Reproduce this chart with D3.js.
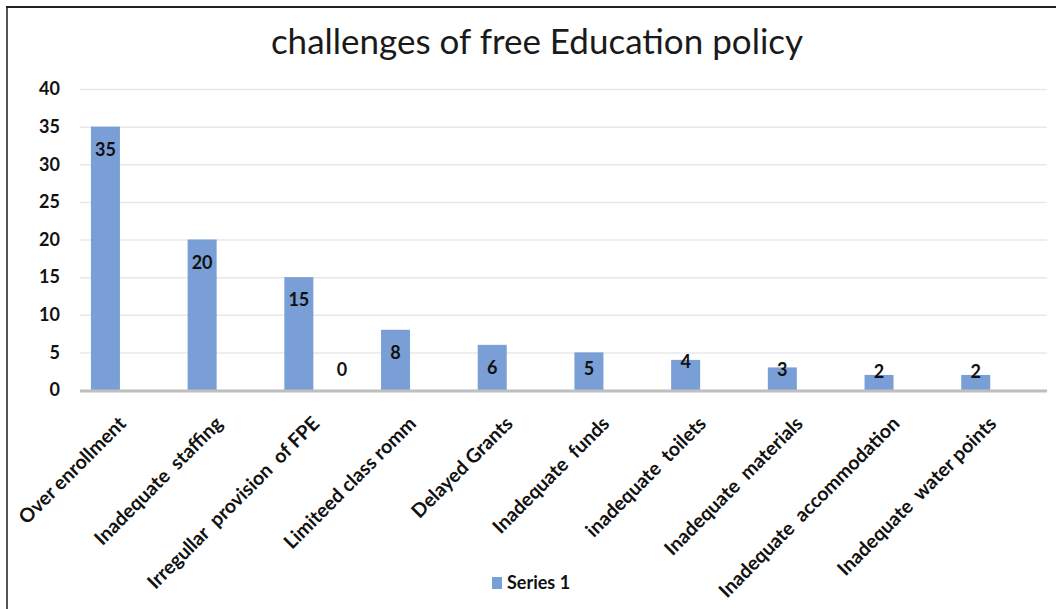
<!DOCTYPE html>
<html>
<head>
<meta charset="utf-8">
<script src="https://cdn.jsdelivr.net/npm/d3@7"></script>
<style>
  body { margin: 0; background: #fff; }
  svg text { font-family: Lato, "Open Sans", sans-serif; }
</style>
</head>
<body>
<svg id="chart"></svg>
<script>
const categories = ["Over enrollment", "Inadequate  staffing", "Irregullar  provision  of FPE", "Limiteed class romm",
    "Delayed Grants", "Inadequate  funds", "inadequate  toilets", "Inadequate  materials",
    "Inadequate  accommodation", "Inadequate  water points"];
const values = [35, 20, 15, 8, 6, 5, 4, 3, 2, 2];
// stray zero label sitting after the third category
const zeroLabel = { category: "Irregullar  provision  of FPE", value: 0 };
const yTicks = [0, 5, 10, 15, 20, 25, 30, 35, 40];

const data = categories.map((c, i) => ({ category: c, value: values[i] }));

const dimensions = {
    width: 1056,
    height: 609,
    margin: { top: 89, right: 9, bottom: 219, left: 80 }
};

const svg = d3.select("#chart")
    .attr("width", dimensions.width)
    .attr("height", dimensions.height);

const xScale = d3.scaleBand()
    .domain(categories)
    .range([dimensions.margin.left, dimensions.width - dimensions.margin.right])
    .padding(0);

const yScale = d3.scaleLinear()
    .domain([0, 40])
    .range([dimensions.height - dimensions.margin.bottom, dimensions.margin.top]);

const bw = xScale.bandwidth();

// border
svg.append("line").attr("x1", 7).attr("x2", 7).attr("y1", 6).attr("y2", 609)
    .attr("stroke", "#555").attr("stroke-width", 2);
svg.append("line").attr("x1", 6).attr("x2", 1056).attr("y1", 7).attr("y2", 7)
    .attr("stroke", "#222").attr("stroke-width", 2);

// title
svg.append("text")
    .attr("x", 537)
    .attr("y", 54)
    .attr("text-anchor", "middle")
    .style("font-size", "35px")
    .style("fill", "#1a1a1a")
    .text("challenges of free Education policy");

// gridlines
svg.append("g")
    .attr("transform", `translate(${dimensions.margin.left},0)`)
    .call(d3.axisLeft(yScale).tickValues(yTicks).tickSize(-(dimensions.width - dimensions.margin.left - dimensions.margin.right)).tickFormat(""))
    .call(g => g.select(".domain").remove())
    .call(g => g.selectAll(".tick line").attr("stroke", "#e8e8e8").attr("stroke-width", 1.5));

// y axis labels
svg.append("g")
    .attr("transform", `translate(${dimensions.margin.left - 20},0)`)
    .call(d3.axisLeft(yScale).tickValues(yTicks).tickSize(0).tickPadding(0))
    .call(g => g.select(".domain").remove())
    .call(g => g.selectAll(".tick text")
        .style("font-size", "18px").style("font-weight", "bold").attr("fill", "#111")
        .style("font-family", "Lato, sans-serif"));

// bars
svg.selectAll(".bar")
    .data(data)
    .enter()
    .append("rect")
    .attr("class", "bar")
    .attr("x", d => xScale(d.category) + bw * 0.113)
    .attr("width", bw * 0.30)
    .attr("y", d => yScale(d.value))
    .attr("height", d => yScale(0) - yScale(d.value))
    .attr("fill", "#7a9fd7");

// baseline
svg.append("line")
    .attr("x1", dimensions.margin.left)
    .attr("x2", dimensions.width - dimensions.margin.right)
    .attr("y1", yScale(0) + 1)
    .attr("y2", yScale(0) + 1)
    .attr("stroke", "#bfbfbf")
    .attr("stroke-width", 3);

// value labels
function labelY(v) {
    const top = yScale(v), base = yScale(0);
    return v >= 5 ? Math.min(top + 23, base - 21) : Math.min(top + 2, base - 18);
}
svg.selectAll(".val")
    .data(data)
    .enter()
    .append("text")
    .attr("class", "val")
    .attr("x", d => xScale(d.category) + bw * 0.263)
    .attr("y", d => labelY(d.value))
    .attr("dy", "0.35em")
    .attr("text-anchor", "middle")
    .style("font-size", "18px")
    .style("font-weight", "bold")
    .attr("fill", "#111")
    .text(d => d.value);

svg.append("text")
    .attr("x", xScale(zeroLabel.category) + bw * 0.71)
    .attr("y", yScale(zeroLabel.value) - 20)
    .attr("dy", "0.35em")
    .attr("text-anchor", "middle")
    .style("font-size", "18px")
    .style("font-weight", "bold")
    .attr("fill", "#111")
    .text(zeroLabel.value);

// category labels
svg.selectAll(".cat")
    .data(categories)
    .enter()
    .append("text")
    .attr("class", "cat")
    .attr("transform", d => `translate(${xScale(d) + bw / 2 - 6}, ${yScale(0) + 30}) rotate(-45)`)
    .attr("text-anchor", "end")
    .attr("dy", "0.35em")
    .style("font-size", "19.5px")
    .style("font-weight", "bold")
    .style("white-space", "pre")
    .attr("fill", "#111")
    .text(d => d);

// legend
const legend = svg.append("g").attr("transform", "translate(492, 577)");
legend.append("rect").attr("width", 10).attr("height", 12).attr("fill", "#7a9fd7");
legend.append("text")
    .attr("x", 15)
    .attr("y", 6)
    .attr("dy", "0.35em")
    .style("font-size", "18px")
    .style("font-weight", "bold")
    .attr("fill", "#111")
    .text("Series 1");
</script>
</body>
</html>
